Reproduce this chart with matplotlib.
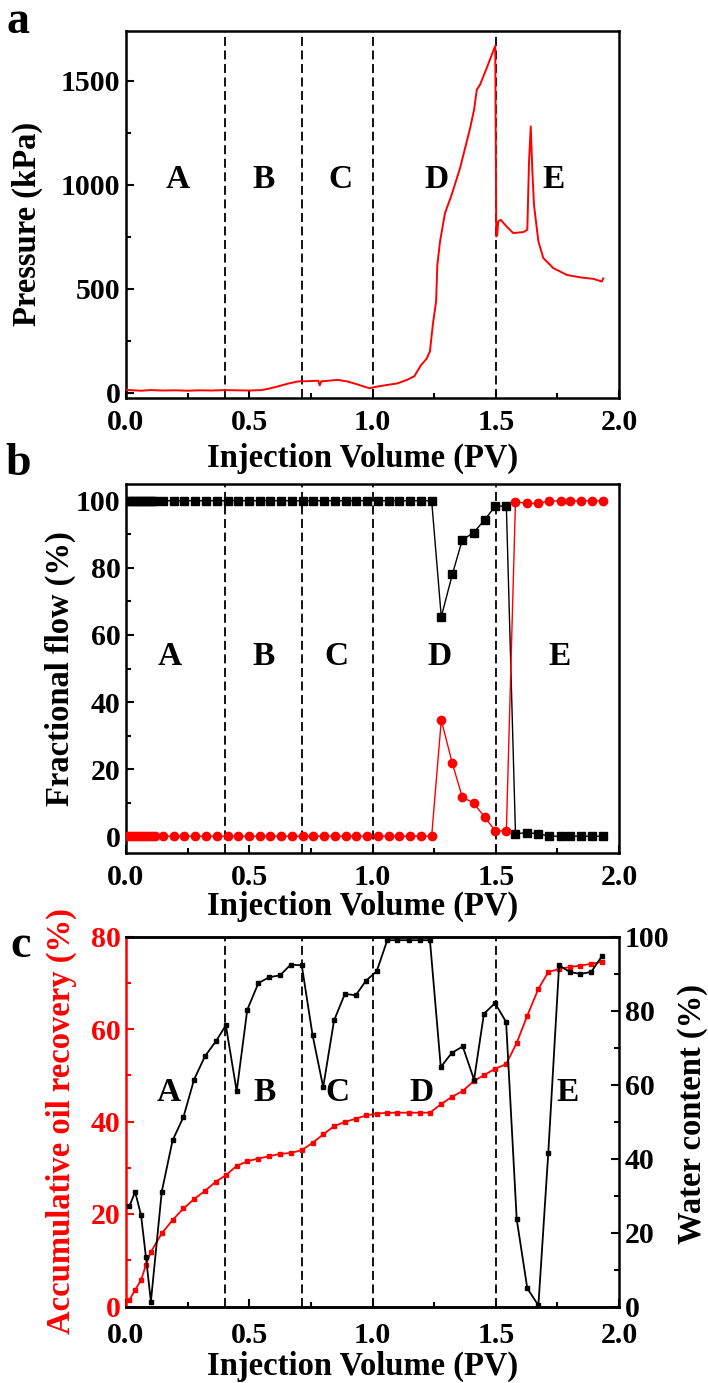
import matplotlib
matplotlib.use('Agg')
import matplotlib.pyplot as plt
from matplotlib.ticker import MultipleLocator

plt.rcParams['font.family'] = ['Liberation Serif', 'DejaVu Serif']
plt.rcParams['font.weight'] = 'bold'
plt.rcParams['axes.labelweight'] = 'bold'

# ---------------- data ----------------
stage_bounds = [0.4, 0.715, 1.0, 1.5]
stage_names = ['A', 'B', 'C', 'D', 'E']

# panel a: pressure
pv_a = [0.00, 0.03, 0.06, 0.10, 0.15, 0.20, 0.25, 0.30, 0.35, 0.40, 0.45, 0.50,
        0.55, 0.58, 0.62, 0.66, 0.70, 0.74, 0.78, 0.786, 0.792, 0.82, 0.86, 0.90,
        0.94, 0.97, 0.99, 1.01, 1.05, 1.10, 1.14, 1.17, 1.195, 1.22, 1.233, 1.245,
        1.258, 1.263, 1.274, 1.294, 1.321, 1.355, 1.396, 1.412, 1.423, 1.436, 1.463,
        1.494, 1.498, 1.502, 1.506, 1.51, 1.52, 1.544, 1.571, 1.612, 1.628, 1.635,
        1.642, 1.648, 1.655, 1.673, 1.693, 1.733, 1.788, 1.843, 1.896, 1.930, 1.936]
pressure = [14, 12, 10, 13, 11, 12, 10, 12, 11, 13, 12, 11,
            13, 20, 32, 45, 55, 56, 58, 36, 55, 58, 62, 54,
            40, 28, 22, 28, 36, 45, 62, 80, 130, 165, 200, 330,
            440, 615, 728, 864, 952, 1080, 1273, 1361, 1457, 1481, 1561,
            1657, 1668, 752, 760, 824, 832, 800, 768, 773, 784, 1112,
            1281, 1080, 904, 728, 648, 600, 567, 555, 548, 535, 550]

# panel b: fractional flow
pv_b = [0.008, 0.020, 0.032, 0.044, 0.056, 0.068, 0.080, 0.092, 0.104, 0.116,
        0.150, 0.194, 0.237, 0.281, 0.324, 0.368, 0.412, 0.455, 0.499, 0.542,
        0.586, 0.630, 0.673, 0.717, 0.760, 0.804, 0.848, 0.891, 0.935, 0.978,
        1.022, 1.066, 1.109, 1.153, 1.196, 1.240, 1.279, 1.324, 1.364, 1.410,
        1.456, 1.498, 1.543, 1.580, 1.626, 1.671, 1.717, 1.763, 1.803, 1.845,
        1.890, 1.936]
water_frac = [100, 100, 100, 100, 100, 100, 100, 100, 100, 100,
              100, 100, 100, 100, 100, 100, 100, 100, 100, 100,
              100, 100, 100, 100, 100, 100, 100, 100, 100, 100,
              100, 100, 100, 100, 100, 100, 65.4, 78.1, 88.3, 90.5,
              94.4, 98.4, 98.4, 0.8, 1.0, 0.8, 0.0, 0.0, 0.0, 0.0,
              0.0, 0.0]
oil_frac = [0, 0, 0, 0, 0, 0, 0, 0, 0, 0,
            0, 0, 0, 0, 0, 0, 0, 0, 0, 0,
            0, 0, 0, 0, 0, 0, 0, 0, 0, 0,
            0, 0, 0, 0, 0, 0, 34.6, 21.7, 11.7, 9.9,
            5.6, 1.6, 1.6, 99.7, 99.2, 99.2, 99.9, 100, 100, 100,
            100, 100]

# panel c: oil recovery and water content
pv_c = [0.014, 0.037, 0.061, 0.081, 0.101, 0.145, 0.189, 0.233, 0.276, 0.320,
        0.365, 0.405, 0.449, 0.492, 0.537, 0.581, 0.625, 0.668, 0.713, 0.757,
        0.800, 0.844, 0.888, 0.932, 0.974, 1.017, 1.060, 1.098, 1.149, 1.193,
        1.233, 1.277, 1.321, 1.366, 1.412, 1.452, 1.497, 1.542, 1.585, 1.628,
        1.673, 1.713, 1.757, 1.801, 1.843, 1.887, 1.930]
oil_recovery = [1.4, 3.6, 5.7, 9.0, 11.8, 15.8, 18.7, 21.2, 23.2, 25.0,
                27.0, 28.4, 30.4, 31.4, 32.0, 32.5, 33.0, 33.2, 33.8, 35.4,
                37.2, 39.0, 39.9, 40.6, 41.3, 41.7, 41.9, 41.9, 41.9, 41.9,
                41.9, 43.7, 45.3, 46.6, 48.8, 50.0, 51.4, 52.4, 57.0, 62.9,
                68.7, 72.3, 73.0, 73.4, 73.7, 74.1, 74.5]
water_content = [27.1, 31.0, 24.7, 13.3, 1.3, 31.0, 44.9, 51.2, 61.3, 67.6,
                 71.7, 76.0, 58.2, 80.2, 87.4, 89.0, 89.5, 92.4, 92.2, 73.3,
                 59.3, 77.3, 84.5, 84.1, 88.1, 90.6, 99.0, 99.0, 99.0, 99.0,
                 99.0, 64.7, 68.5, 70.3, 61.3, 79.1, 82.0, 76.9, 23.6, 4.9,
                 0.3, 41.4, 92.2, 90.4, 89.9, 90.4, 94.6]

# ---------------- style ----------------
RED = '#ff0000'
TICK_FS = 21.5
LABEL_FS = 23.5
LETTER_FS = 24
PANEL_FS = 33
SPINE_LW = 1.8

fig = plt.figure(figsize=(7.08, 13.83), dpi=100)
L, W = 126 / 708, 493 / 708
ax_a = fig.add_axes([L, 1 - 398 / 1383, W, 367 / 1383])
ax_b = fig.add_axes([L, 1 - 853 / 1383, W, 369 / 1383])
ax_c = fig.add_axes([L, 1 - 1306.5 / 1383, W, 370 / 1383])


def style(ax, right=False):
    for s in ax.spines.values():
        s.set_linewidth(SPINE_LW)
    ax.tick_params(which='both', direction='in', width=1.5, labelsize=TICK_FS,
                   top=False, right=right)
    ax.tick_params(which='major', length=6)
    ax.tick_params(which='minor', length=3.5)
    ax.tick_params(axis='x', pad=8)
    ax.tick_params(axis='y', pad=4)
    ax.set_xlim(0, 2.0)
    ax.xaxis.set_major_locator(MultipleLocator(0.5))
    ax.xaxis.set_minor_locator(MultipleLocator(0.25))
    ax.xaxis.set_major_formatter(plt.FormatStrFormatter('%.1f'))


def stages(ax):
    for b in stage_bounds:
        ax.axvline(b, color='black', lw=1.3, ls=(0, (5, 2.5)), zorder=1)


def xlab(ax, ypos):
    ax.set_xlabel('Injection Volume (PV)', fontsize=LABEL_FS, fontweight='bold')
    ax.xaxis.set_label_coords(0.48, ypos)
    ax.xaxis.label.set_va('center')


# ----- panel a -----
style(ax_a)
ax_a.set_ylim(-25, 1740)
ax_a.yaxis.set_major_locator(MultipleLocator(500))
ax_a.yaxis.set_minor_locator(MultipleLocator(250))
stages(ax_a)
ax_a.plot(pv_a, pressure, color=RED, lw=1.4, zorder=3)
for name, xp in zip(stage_names, [0.21, 0.557, 0.868, 1.26, 1.735]):
    ax_a.text(xp, 1027, name, fontsize=LETTER_FS, fontweight='bold',
              ha='center', va='center')
ax_a.set_ylabel('Pressure (kPa)', fontsize=LABEL_FS, fontweight='bold')
ax_a.yaxis.set_label_coords(-0.200, 0.474)
ax_a.yaxis.label.set_va('center')
xlab(ax_a, -0.165)

# ----- panel b -----
style(ax_b)
ax_b.set_ylim(-5, 105)
ax_b.yaxis.set_major_locator(MultipleLocator(20))
ax_b.yaxis.set_minor_locator(MultipleLocator(10))
stages(ax_b)
ax_b.plot(pv_b, water_frac, color='black', lw=1.0, marker='s', ms=5.5,
          zorder=3)
ax_b.plot(pv_b, oil_frac, color=RED, lw=1.0, marker='o', ms=6,
          zorder=4)
for name, xp in zip(stage_names, [0.177, 0.557, 0.853, 1.273, 1.759]):
    ax_b.text(xp, 53.5, name, fontsize=LETTER_FS, fontweight='bold',
              ha='center', va='center')
ax_b.set_ylabel('Fractional flow (%)', fontsize=LABEL_FS, fontweight='bold')
ax_b.yaxis.set_label_coords(-0.134, 0.5)
ax_b.yaxis.label.set_va('center')
xlab(ax_b, -0.145)

# ----- panel c -----
style(ax_c)
ax_c.tick_params(axis='x', pad=11)
ax_c.set_ylim(0, 80)
ax_c.yaxis.set_major_locator(MultipleLocator(20))
ax_c.yaxis.set_minor_locator(MultipleLocator(10))
stages(ax_c)
ax_c.spines['left'].set_color(RED)
ax_c.spines['right'].set_visible(False)
ax_c.tick_params(axis='y', colors=RED, which='both')
ax_c2 = ax_c.twinx()
for s in ax_c2.spines.values():
    s.set_linewidth(SPINE_LW)
ax_c2.spines['left'].set_visible(False)
ax_c2.set_ylim(0, 100)
ax_c2.yaxis.set_major_locator(MultipleLocator(20))
ax_c2.yaxis.set_minor_locator(MultipleLocator(10))
ax_c2.tick_params(which='both', direction='in', width=1.5, labelsize=TICK_FS,
                  pad=4)
ax_c2.tick_params(which='major', length=6)
ax_c2.tick_params(which='minor', length=3.5)
ax_c.plot(pv_c, oil_recovery, color=RED, lw=1.3, marker='s', ms=3, zorder=3)
ax_c2.plot(pv_c, water_content, color='black', lw=1.3, marker='s', ms=3,
           zorder=3)
for name, xp in zip(stage_names, [0.172, 0.564, 0.858, 1.2, 1.79]):
    ax_c.text(xp, 46.3, name, fontsize=LETTER_FS, fontweight='bold',
              ha='center', va='center', zorder=5)
ax_c.set_ylabel('Accumulative oil recovery (%)', fontsize=LABEL_FS,
                fontweight='bold', color=RED)
ax_c.yaxis.set_label_coords(-0.132, 0.5)
ax_c.yaxis.label.set_va('center')
ax_c2.set_ylabel('Water content (%)', fontsize=LABEL_FS, fontweight='bold',
                 rotation=90)
ax_c2.yaxis.set_label_coords(1.150, 0.52)
ax_c2.yaxis.label.set_va('center')
xlab(ax_c, -0.161)

# panel letters
fig.text(18 / 708, 1 - 33 / 1383, 'a', fontsize=PANEL_FS, fontweight='bold',
         ha='center', va='baseline')
fig.text(18 / 708, 1 - 475 / 1383, 'b', fontsize=PANEL_FS, fontweight='bold',
         ha='center', va='baseline')
fig.text(21 / 708, 1 - 957 / 1383, 'c', fontsize=PANEL_FS, fontweight='bold',
         ha='center', va='baseline')

fig.savefig('out.png', dpi=100)
